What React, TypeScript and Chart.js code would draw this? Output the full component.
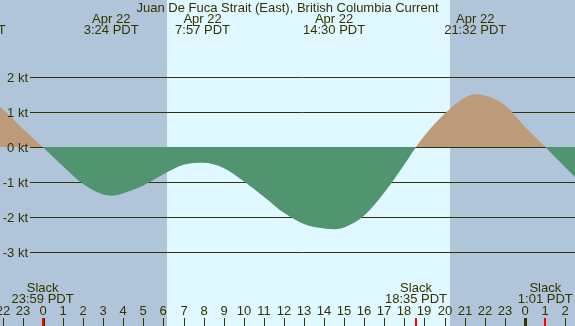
import React, { useEffect, useRef } from 'react';
import { Chart, registerables } from 'chart.js';

Chart.register(...registerables);

const TITLE = 'Juan De Fuca Strait (East), British Columbia Current';

// current curve (hours from midnight Apr 22, knots)
const hours = [-2.14, -2, -1, 0, 1, 2, 3, 3.4, 4, 5, 6, 7, 7.95, 9, 10, 11, 12, 13, 14, 14.5, 15, 16, 17, 18, 18.58, 19, 20, 21, 21.53, 22, 23, 24, 25, 26, 26.5];
const knots = [1.15, 1.08, 0.52, -0.01, -0.55, -1.06, -1.36, -1.39, -1.32, -1.1, -0.78, -0.51, -0.45, -0.6, -0.98, -1.42, -1.88, -2.2, -2.33, -2.35, -2.3, -1.96, -1.3, -0.5, 0, 0.32, 0.95, 1.41, 1.51, 1.47, 1.2, 0.58, 0.01, -0.57, -0.85];

const yTicks = [2, 1, 0, -1, -2, -3];
const hourTicks = [-2, -1, 0, 1, 2, 3, 4, 5, 6, 7, 8, 9, 10, 11, 12, 13, 14, 15, 16, 17, 18, 19, 20, 21, 22, 23, 24, 25, 26];

const peakHours = [-3.4, 3.4, 7.95, 14.5, 21.53];
const peakDates = ['Apr 21', 'Apr 22', 'Apr 22', 'Apr 22', 'Apr 22'];
const peakTimes = ['20:36 PDT', '3:24 PDT', '7:57 PDT', '14:30 PDT', '21:32 PDT'];

const slackHours = [-0.017, 18.58, 25.02];
const slackTimes = ['23:59 PDT', '18:35 PDT', '1:01 PDT'];

const sunrise = 6.17;
const sunset = 20.27;

const X_MIN = -2.14;
const X_MAX = 26.5;
const Y_MIN = -5.114;
const Y_MAX = 4.2;

const NIGHT = '#b0c4da';
const DAY = '#e0f8ff';
const FLOOD = '#bc9a7a';
const EBB = '#509570';
const INK = '#333300';
const FONT = '13px "Liberation Sans", Arial, sans-serif';

export default function App() {
  const ref = useRef<HTMLCanvasElement | null>(null);

  useEffect(() => {
    document.body.style.margin = '0';
    const canvas = ref.current;
    if (!canvas) return;

    const decor = {
      id: 'decor',
      beforeDatasetsDraw(chart: any) {
        const { ctx, chartArea, scales } = chart;
        const xs = scales.x;
        const ys = scales.y;
        const bottom = chart.height;
        ctx.save();
        const xr = Math.round(xs.getPixelForValue(sunrise));
        const xss = Math.round(xs.getPixelForValue(sunset));
        ctx.fillStyle = NIGHT;
        ctx.fillRect(0, 0, chart.width, bottom);
        ctx.fillStyle = DAY;
        ctx.fillRect(xr, 0, xss - xr, bottom);
        ctx.strokeStyle = INK;
        ctx.lineWidth = 1;
        yTicks.forEach((v) => {
          const y = Math.round(ys.getPixelForValue(v)) + 0.5;
          ctx.beginPath();
          ctx.moveTo(30, y);
          ctx.lineTo(chartArea.right, y);
          ctx.stroke();
        });
        ctx.restore();
      },
      afterDatasetsDraw(chart: any) {
        const { ctx, scales } = chart;
        const xs = scales.x;
        const ys = scales.y;
        ctx.save();
        ctx.font = FONT;
        ctx.fillStyle = INK;
        ctx.textBaseline = 'middle';
        ctx.textAlign = 'right';
        yTicks.forEach((v) => {
          ctx.fillText(v + ' kt', 28, ys.getPixelForValue(v) + 1);
        });
        ctx.textAlign = 'center';
        ctx.fillText(TITLE, chart.width / 2, 8);
        peakHours.forEach((h, i) => {
          const x = xs.getPixelForValue(h);
          ctx.fillText(peakDates[i], x, 19);
          ctx.fillText(peakTimes[i], x, 30);
        });
        slackHours.forEach((h, i) => {
          const x = xs.getPixelForValue(h);
          ctx.fillText('Slack', x, 288);
          ctx.fillText(slackTimes[i], x, 299);
        });
        hourTicks.forEach((h) => {
          const x = Math.round(xs.getPixelForValue(h));
          const lab = String(((h % 24) + 24) % 24);
          ctx.fillText(lab, x, 311);
          if (h % 24 === 0) {
            ctx.fillRect(x - 1, 318, 3, 8);
          } else {
            ctx.fillRect(x, 318, 1, 8);
          }
        });
        ctx.fillStyle = '#ff0000';
        slackHours.forEach((h) => {
          const x = Math.round(xs.getPixelForValue(h));
          ctx.fillRect(x - 1, 318, 2, 8);
        });
        ctx.restore();
      },
    };

    const chart = new Chart(canvas, {
      type: 'line',
      data: {
        datasets: [
          {
            data: hours.map((h, i) => ({ x: h, y: knots[i] })),
            borderWidth: 0,
            borderColor: 'rgba(0,0,0,0)',
            pointRadius: 0,
            cubicInterpolationMode: 'monotone',
            fill: { target: { value: 0 }, above: FLOOD, below: EBB },
          } as any,
        ],
      },
      options: {
        animation: false,
        responsive: false,
        maintainAspectRatio: false,
        layout: { padding: 0 },
        plugins: { legend: { display: false }, tooltip: { enabled: false }, title: { display: false } },
        events: [],
        scales: {
          x: { type: 'linear', min: X_MIN, max: X_MAX, display: false },
          y: { type: 'linear', min: Y_MIN, max: Y_MAX, display: false },
        },
      },
      plugins: [decor],
    });
    return () => chart.destroy();
  }, []);

  return (
    <div style={{ position: 'absolute', left: 0, top: 0, width: 575, height: 326 }}>
      <canvas ref={ref} width={575} height={326} style={{ display: 'block', width: 575, height: 326 }} />
    </div>
  );
}
